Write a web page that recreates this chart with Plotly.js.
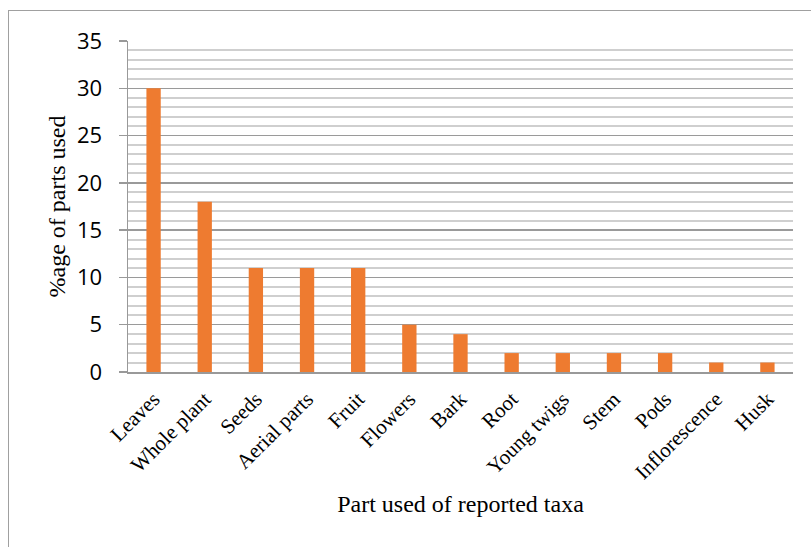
<!DOCTYPE html>
<html>
<head>
<meta charset="utf-8">
<script src="https://cdn.plot.ly/plotly-3.0.1.min.js"></script>
<style>
  html, body { margin: 0; padding: 0; background: #fff; }
  #wrap { position: relative; width: 811px; height: 547px; }
  #chart { position: absolute; left: 0; top: 0; width: 811px; height: 547px; }
  #frame { position: absolute; left: 8px; top: 10px; width: 803px; height: 537px;
           border-left: 1.5px solid #a0a0a0; border-top: 1.5px solid #a0a0a0; pointer-events: none; }
</style>
</head>
<body>
<div id="wrap">
  <div id="chart"></div>
  <div id="frame"></div>
</div>
<script>
const categories = ["Leaves", "Whole plant", "Seeds", "Aerial parts", "Fruit", "Flowers", "Bark",
                    "Root", "Young twigs", "Stem", "Pods", "Inflorescence", "Husk"];
const values = [30, 18, 11, 11, 11, 5, 4, 2, 2, 2, 2, 1, 1];
const xTitle = "Part used of reported taxa";
const yTitle = "%age of parts used";

const serif = "Liberation Serif, Times New Roman, serif";

const trace = {
  type: "bar",
  x: categories,
  y: values,
  marker: { color: "#EE7B30", line: { width: 0 } },
  hoverinfo: "x+y"
};

const layout = {
  width: 811,
  height: 547,
  margin: { l: 128, r: 18, t: 41, b: 175 },
  paper_bgcolor: "#ffffff",
  plot_bgcolor: "#ffffff",
  showlegend: false,
  bargap: 0.72,
  xaxis: {
    type: "category",
    tickangle: -45,
    tickfont: { family: serif, size: 21, color: "#000" },
    ticklabelstandoff: 5,
    showgrid: false,
    showline: true,
    linecolor: "#999",
    linewidth: 1.5,
    ticks: "",
    title: { text: xTitle, font: { family: serif, size: 24, color: "#000" }, standoff: 12 }
  },
  yaxis: {
    range: [0, 35],
    dtick: 5,
    tick0: 0,
    tickfont: { family: "Open Sans, Liberation Sans, sans-serif", size: 22, color: "#000" },
    ticklabelstandoff: 12,
    showgrid: true,
    gridcolor: "#9a9a9a",
    gridwidth: 1.5,
    zeroline: false,
    showline: true,
    linecolor: "#999",
    linewidth: 1.5,
    ticks: "outside",
    ticklen: 8,
    tickcolor: "#999",
    tickwidth: 1.5,
    minor: { dtick: 1, tick0: 0, showgrid: true, gridcolor: "#cfcfcf", gridwidth: 2, ticks: "" },
    title: { text: yTitle, font: { family: serif, size: 24, color: "#000" }, standoff: 4 }
  }
};

Plotly.newPlot("chart", [trace], layout, { displayModeBar: false, staticPlot: true });
</script>
</body>
</html>
